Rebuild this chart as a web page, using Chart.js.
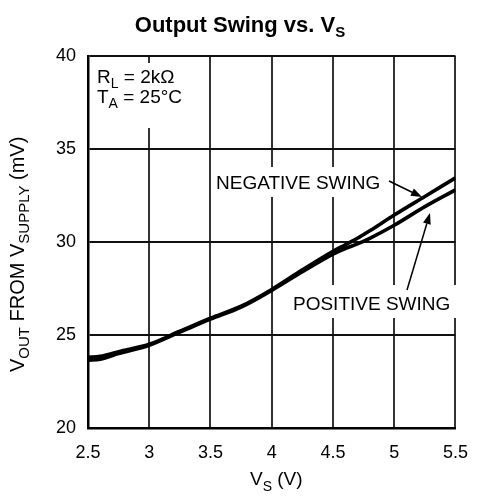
<!DOCTYPE html>
<html>
<head>
<meta charset="utf-8">
<script src="https://cdn.jsdelivr.net/npm/chart.js@4"></script>
<style>
  html, body { margin: 0; padding: 0; background: #fff; }
  #wrap { width: 482px; height: 501px; }
</style>
</head>
<body>
<div id="wrap"><canvas id="c" width="482" height="501"></canvas></div>
<script>
// ---- data ----
const vsValues = [2.5, 2.6, 2.75, 3.0, 3.25, 3.5, 3.75, 4.0, 4.25, 4.5, 4.6, 4.7, 4.8, 5.0, 5.25, 5.5];
const negativeSwing = [23.8, 23.85, 24.1, 24.5, 25.2, 25.9, 26.55, 27.45, 28.5, 29.5, 29.85, 30.2, 30.6, 31.45, 32.45, 33.45];
const positiveSwing = [23.65, 23.7, 24.0, 24.45, 25.15, 25.85, 26.5, 27.4, 28.4, 29.35, 29.65, 29.9, 30.2, 30.9, 31.9, 32.8];
const xTicks = [2.5, 3, 3.5, 4, 4.5, 5, 5.5];
const yTicks = [20, 25, 30, 35, 40];

const FONT = '"Liberation Sans", Arial, Helvetica, sans-serif';

function drawParts(ctx, parts, x, y) {
  let cx = x;
  for (const p of parts) {
    ctx.font = (p.bold ? 'bold ' : '') + p.size + 'px ' + FONT;
    ctx.fillText(p.t, cx, y + (p.dy || 0));
    cx += ctx.measureText(p.t).width;
  }
  return cx;
}

function arrow(ctx, x1, y1, x2, y2) {
  ctx.save();
  ctx.strokeStyle = '#000';
  ctx.fillStyle = '#000';
  ctx.lineWidth = 1.5;
  const ang = Math.atan2(y2 - y1, x2 - x1);
  const hl = 11, hw = 4;
  const bx = x2 - hl * Math.cos(ang), by = y2 - hl * Math.sin(ang);
  ctx.beginPath();
  ctx.moveTo(x1, y1);
  ctx.lineTo(bx, by);
  ctx.stroke();
  ctx.beginPath();
  ctx.moveTo(x2, y2);
  ctx.lineTo(bx + hw * Math.sin(ang), by - hw * Math.cos(ang));
  ctx.lineTo(bx - hw * Math.sin(ang), by + hw * Math.cos(ang));
  ctx.closePath();
  ctx.fill();
  ctx.restore();
}

const annot = {
  id: 'annot',
  beforeDatasetsDraw(chart) {
    const ctx = chart.ctx;
    ctx.save();
    ctx.fillStyle = '#fff';
    // white backgrounds behind the labels (break the grid lines)
    ctx.fillRect(92, 63, 108, 65);
    ctx.fillRect(213, 167, 174, 30);
    ctx.fillRect(290, 285, 166, 33);
    ctx.restore();
  },
  afterDatasetsDraw(chart) {
    const ctx = chart.ctx;
    ctx.save();
    ctx.fillStyle = '#000';
    ctx.textBaseline = 'alphabetic';
    ctx.textAlign = 'left';

    // title
    const tParts = [{t: 'Output Swing vs. V', size: 22, bold: true}, {t: 'S', size: 15, bold: true, dy: 5}];
    let w = 0;
    for (const p of tParts) { ctx.font = (p.bold ? 'bold ' : '') + p.size + 'px ' + FONT; w += ctx.measureText(p.t).width; }
    drawParts(ctx, tParts, 240 - w / 2, 32);

    // conditions
    drawParts(ctx, [{t: 'R', size: 19}, {t: 'L', size: 14, dy: 5}, {t: ' = 2kΩ', size: 19}], 97, 83);
    drawParts(ctx, [{t: 'T', size: 19}, {t: 'A', size: 14, dy: 5}, {t: ' = 25°C', size: 19}], 97, 103);

    // curve labels
    drawParts(ctx, [{t: 'NEGATIVE SWING', size: 19}], 216, 189);
    drawParts(ctx, [{t: 'POSITIVE SWING', size: 19}], 293, 310);
    arrow(ctx, 389, 181, 422, 197);
    arrow(ctx, 407, 290, 430, 213);

    // x axis title
    drawParts(ctx, [{t: 'V', size: 19}, {t: 'S', size: 14, dy: 6}, {t: ' (V)', size: 19}], 250, 485);

    // y axis title (rotated)
    ctx.save();
    ctx.translate(24, 372);
    ctx.rotate(-Math.PI / 2);
    drawParts(ctx, [
      {t: 'V', size: 20}, {t: 'OUT', size: 15, dy: 5},
      {t: ' FROM V', size: 20}, {t: 'SUPPLY', size: 15, dy: 5},
      {t: ' (mV)', size: 20}
    ], 0, 0);
    ctx.restore();

    ctx.restore();
  }
};

const toPts = (ys) => vsValues.map((x, i) => ({x: x, y: ys[i]}));

new Chart(document.getElementById('c'), {
  type: 'line',
  data: {
    datasets: [
      { label: 'NEGATIVE SWING', data: toPts(negativeSwing), borderColor: '#000', borderWidth: 3.6, pointRadius: 0, cubicInterpolationMode: 'monotone', fill: false },
      { label: 'POSITIVE SWING', data: toPts(positiveSwing), borderColor: '#000', borderWidth: 3.6, pointRadius: 0, cubicInterpolationMode: 'monotone', fill: false }
    ]
  },
  options: {
    responsive: false,
    animation: false,
    events: [],
    layout: { padding: { top: 56, right: 20, left: 0, bottom: 0 } },
    plugins: { legend: { display: false }, title: { display: false }, tooltip: { enabled: false } },
    scales: {
      x: {
        type: 'linear',
        min: xTicks[0], max: xTicks[xTicks.length - 1],
        afterFit(s) { s.height = 73; },
        afterBuildTicks(s) { s.ticks = xTicks.map(v => ({value: v})); },
        ticks: { color: '#000', font: { family: FONT, size: 18 }, padding: 14, maxRotation: 0, autoSkip: false,
                 callback: (v) => String(v) },
        grid: { color: '#333', lineWidth: 2, drawTicks: false },
        border: { color: '#000', width: 2.5 }
      },
      y: {
        type: 'linear',
        min: yTicks[0], max: yTicks[yTicks.length - 1],
        afterFit(s) { s.width = 88; },
        afterBuildTicks(s) { s.ticks = yTicks.map(v => ({value: v})); },
        ticks: { color: '#000', font: { family: FONT, size: 18 }, padding: 12, autoSkip: false,
                 callback: (v) => String(v) },
        grid: { color: '#111', lineWidth: 2, drawTicks: false },
        border: { color: '#000', width: 2.5 }
      }
    }
  },
  plugins: [annot]
});
</script>
</body>
</html>
